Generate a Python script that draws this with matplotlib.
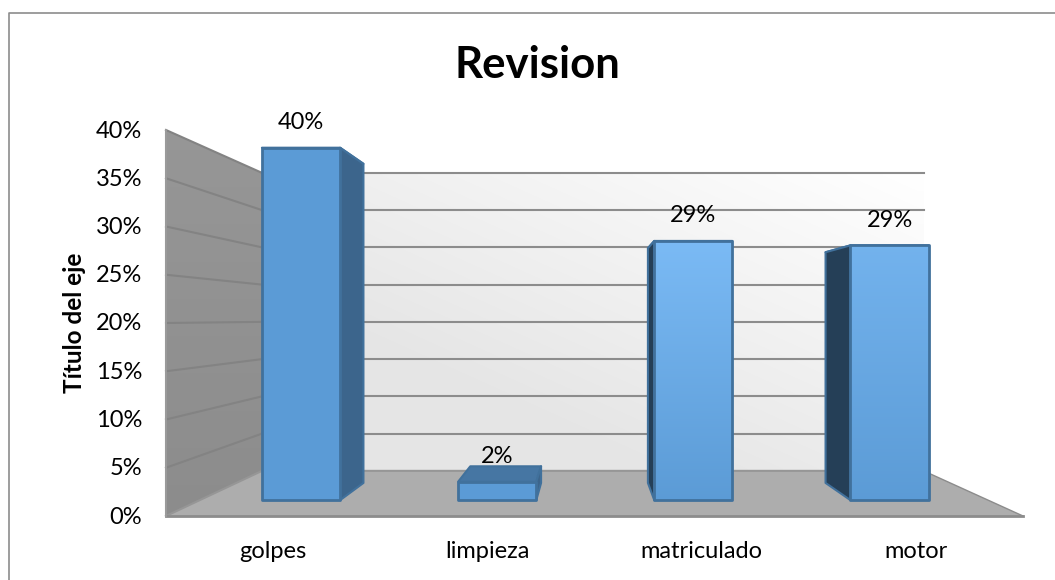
#grafico de barras 3d estilo excel, dibujado a mano con poligonos
import numpy as np
import matplotlib
matplotlib.use("Agg")
import matplotlib.pyplot as plt
from matplotlib.patches import Polygon

plt.rcParams['font.family'] = ['Lato', 'DejaVu Sans']

#datos
categorias = ['golpes', 'limpieza', 'matriculado', 'motor']
valores = [0.397, 0.0207, 0.292, 0.287]
etiquetas = ['40%', '2%', '29%', '29%']
ticks = [0, 0.05, 0.10, 0.15, 0.20, 0.25, 0.30, 0.35, 0.40]
tick_labels = ['0%', '5%', '10%', '15%', '20%', '25%', '30%', '35%', '40%']

#geometria de la perspectiva (pixeles)
X0, X1 = 166, 1023
Y0, ESC = 516, 965
VPX, VPY = 587, 318
S_FONDO, S_FRENTE, S_ATRAS = 0.772, 0.92, 0.833
ANCHO = 85
ajuste_x = [3, 2, 1, 0]


def pr(x, v, s=1.0):
    xf = X0 + x * (X1 - X0)
    yf = Y0 - v * ESC
    return VPX + (xf - VPX) * s, VPY + (yf - VPY) * s


def poli(ax, pts, color, edge='none', lw=0, z=2):
    p = Polygon(pts, closed=True, facecolor=color, edgecolor=edge, linewidth=lw, zorder=z, joinstyle='round')
    ax.add_patch(p)
    return p


def degradado(ax, pts, c_arriba, c_abajo, z=2, diagonal=False):
    p = Polygon(pts, closed=True, facecolor='none', edgecolor='none', zorder=z)
    ax.add_patch(p)
    xs = [a[0] for a in pts]
    ys = [a[1] for a in pts]
    u, t = np.meshgrid(np.linspace(0, 1, 64), np.linspace(0, 1, 64))
    if diagonal:
        t = np.clip((t + (1 - u)) / 1.4, 0, 1)
    t = t[:, :, None]
    img = np.array(c_arriba)[None, None, :] * (1 - t) + np.array(c_abajo)[None, None, :] * t
    im = ax.imshow(img, extent=(min(xs), max(xs), max(ys), min(ys)), aspect='auto', zorder=z, interpolation='bilinear')
    im.set_clip_path(p)


fig = plt.figure(figsize=(10.55, 5.8), dpi=100)
ax = fig.add_axes([0, 0, 1, 1])
ax.set_xlim(0, 1055)
ax.set_ylim(580, 0)
ax.axis('off')

#marco
ax.plot([8.5, 8.5, 1055], [580, 12.5, 12.5], color='#8c8c8c', lw=1.2, zorder=1)

#paredes y piso
degradado(ax, [pr(0, 0, S_FONDO), pr(1, 0, S_FONDO), pr(1, 0.4, S_FONDO), pr(0, 0.4, S_FONDO)],
          (1, 1, 1), (0.90, 0.90, 0.90), z=1, diagonal=True)
degradado(ax, [pr(0, 0), pr(0, 0.4), pr(0, 0.4, S_FONDO), pr(0, 0, S_FONDO)],
          (0.59, 0.59, 0.59), (0.55, 0.55, 0.55), z=1)
poli(ax, [pr(0, 0), pr(1, 0), pr(1, 0, S_FONDO), pr(0, 0, S_FONDO)], '#adadad', z=1)

#lineas de la cuadricula
for t in ticks[1:]:
    a, b = pr(0, t), pr(0, t, S_FONDO)
    c = pr(1, t, S_FONDO)
    ax.plot([a[0], b[0]], [a[1], b[1]], color='#838383', lw=1.5, zorder=1.5)
    ax.plot([b[0], c[0]], [b[1], c[1]], color='#8c8c8c', lw=1.5, zorder=1.5)
a, b, c = pr(0, 0), pr(0, 0, S_FONDO), pr(1, 0, S_FONDO)
ax.plot([a[0], b[0], c[0]], [a[1], b[1], c[1]], color='#969696', lw=1.5, zorder=1.5)
ax.plot([a[0], pr(1, 0)[0]], [a[1], pr(1, 0)[1]], color='#8c8c8c', lw=2, zorder=1.5)
ax.plot([pr(1, 0)[0], c[0]], [pr(1, 0)[1], c[1]], color='#8c8c8c', lw=1, zorder=1.5)
ax.plot([a[0], pr(0, 0.4)[0]], [a[1], pr(0, 0.4)[1]], color='#9a9a9a', lw=1.5, zorder=1.5)

#barras
colores = [((0.36, 0.61, 0.84), (0.36, 0.61, 0.84)),
           ((0.36, 0.61, 0.84), (0.36, 0.61, 0.84)),
           ((0.48, 0.73, 0.96), (0.36, 0.61, 0.84)),
           ((0.45, 0.70, 0.93), (0.36, 0.61, 0.84))]
borde = '#41719c'
for i, v in enumerate(valores):
    cx = (i + 0.5 + ajuste_x[i] / 214.25) / len(valores)
    w = ANCHO / 2 / (X1 - X0)
    izq, der = cx - w, cx + w
    f = S_FRENTE
    b = S_ATRAS
    #cara superior
    poli(ax, [pr(izq, v, f), pr(der, v, f), pr(der, v, b), pr(izq, v, b)], '#4676a3', borde, 1.5, z=3)
    #cara lateral, se ve la que queda hacia el centro
    if pr(der, 0, b)[0] > pr(der, 0, f)[0]:
        poli(ax, [pr(der, 0, f), pr(der, v, f), pr(der, v, b), pr(der, 0, b)], '#3c658c', borde, 1.5, z=3)
    if pr(izq, 0, b)[0] < pr(izq, 0, f)[0]:
        poli(ax, [pr(izq, 0, f), pr(izq, v, f), pr(izq, v, b), pr(izq, 0, b)], '#253f57', borde, 1.5, z=3)
    #cara frontal
    frente = [pr(izq, 0, f), pr(der, 0, f), pr(der, v, f), pr(izq, v, f)]
    degradado(ax, frente, colores[i][0], colores[i][1], z=4)
    poli(ax, frente, 'none', borde, 2, z=5)
    #etiqueta de datos
    ax.text(pr(cx, 0, f)[0], pr(cx, v, f)[1] - 25, etiquetas[i], fontsize=17, ha='center', va='center', color='black', zorder=6)
    #categoria
    ax.text((i + 0.5) * 214.25 + X0, 551, categorias[i], fontsize=17, ha='center', va='center', color='black')

#eje y
for t, lab in zip(ticks, tick_labels):
    ax.text(142, pr(0, t)[1] + 1, lab, fontsize=17, ha='right', va='center', color='black')

ax.text(537, 65, 'Revision', fontsize=31.5, fontweight='bold', ha='center', va='center', color='black')
ax.text(74, 323, 'Título del eje', fontsize=17.5, fontweight='bold', rotation=90, ha='center', va='center', color='black')

fig.savefig('out.png', dpi=100)
